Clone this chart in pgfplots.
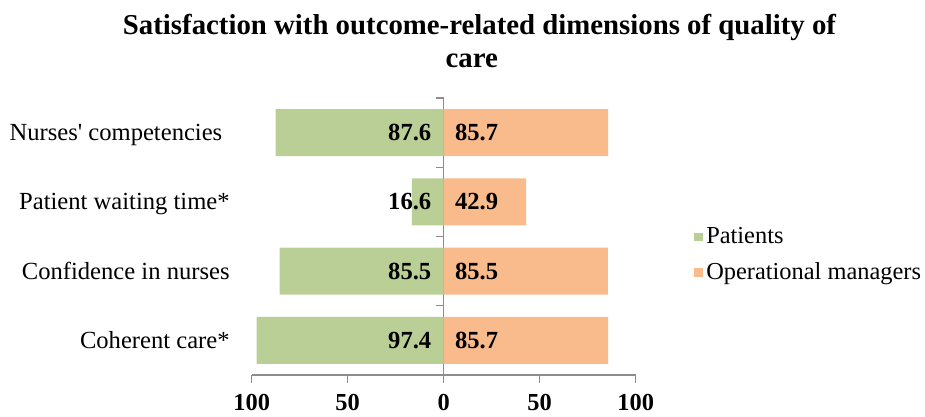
\documentclass[border=0pt]{standalone}
\usepackage{pgfplots}
\pgfplotsset{compat=1.18}
\usepackage{fontspec}
\defaultfontfeatures[\rmfamily]{}
\setmainfont{Liberation Serif}
\definecolor{pgreen}{HTML}{BACF96}
\definecolor{porange}{HTML}{F9BA8C}
\definecolor{axgray}{HTML}{8C8C8C}
\begin{document}
\begin{tikzpicture}
\begin{axis}[
  name=ax,
  at={(0,0)}, anchor=south west,
  scale only axis,
  clip=false,
  width=192pt, height=138.5pt,
  xmin=-100, xmax=100, ymin=-0.5, ymax=3.5,
  axis x line=bottom,
  axis y line=center,
  axis line style={axgray, line width=0.7pt, -},
  xtick={-100,-50,0,50,100},
  xticklabels={\textbf{100},\textbf{50},\textbf{0},\textbf{50},\textbf{100}},
  xticklabel style={font=\fontsize{12.2}{12}\selectfont, yshift=-2pt},
  ytick={-0.5,0.5,1.5,2.5,3.5},
  yticklabels={},
  tick style={axgray, line width=0.7pt},
  major tick length=4pt,
  tick align=outside,
  legend image code/.code={\fill (0pt,-2.2pt) rectangle (4.4pt,2.2pt);},
  legend style={at={(1.152,0.433)}, anchor=west, draw=none, fill=none,
    font=\fontsize{12.2}{12}\selectfont, row sep=5pt, inner sep=0pt,
    nodes={inner sep=1.5pt}},
  legend cell align=left,
]
\addlegendimage{fill=pgreen, draw=none}
\addlegendentry{Patients}
\addlegendimage{fill=porange, draw=none}
\addlegendentry{Operational managers}
% Patients (plotted to the left)
\addplot[xbar, bar width=0.676, bar shift=0pt, fill=pgreen, draw=none, forget plot]
  coordinates {(-97.4,0) (-85.5,1) (-16.6,2) (-87.6,3)};
% Operational managers
\addplot[xbar, bar width=0.676, bar shift=0pt, fill=porange, draw=none, forget plot]
  coordinates {(85.7,0) (85.5,1) (42.9,2) (85.7,3)};
% value labels
\addplot[draw=none, mark=none, forget plot, point meta=explicit,
  nodes near coords={\pgfmathprintnumber[fixed,fixed zerofill,precision=1,assume math mode=true]{\pgfplotspointmeta}},
  every node near coord/.append style={anchor=east, xshift=-6pt, inner sep=0pt,
    font=\fontsize{12.3}{12}\selectfont\bfseries}]
  coordinates {(0,0) [97.4] (0,1) [85.5] (0,2) [16.6] (0,3) [87.6]};
\addplot[draw=none, mark=none, forget plot, point meta=explicit,
  nodes near coords={\pgfmathprintnumber[fixed,fixed zerofill,precision=1,assume math mode=true]{\pgfplotspointmeta}},
  every node near coord/.append style={anchor=west, xshift=5.5pt, inner sep=0pt,
    font=\fontsize{12.3}{12}\selectfont\bfseries}]
  coordinates {(0,0) [85.7] (0,1) [85.5] (0,2) [42.9] (0,3) [85.7]};
% category labels
\node[anchor=base east, inner sep=0pt, font=\fontsize{12.3}{12}\selectfont, xshift=-14.5pt, yshift=-4pt] at (axis cs:-100,3) {Nurses' competencies};
\node[anchor=base east, inner sep=0pt, font=\fontsize{12.3}{12}\selectfont, xshift=-10.85pt, yshift=-4pt] at (axis cs:-100,2) {Patient waiting time*};
\node[anchor=base east, inner sep=0pt, font=\fontsize{12.3}{12}\selectfont, xshift=-10.85pt, yshift=-4pt] at (axis cs:-100,1) {Confidence in nurses};
\node[anchor=base east, inner sep=0pt, font=\fontsize{12.3}{12}\selectfont, xshift=-10.85pt, yshift=-4pt] at (axis cs:-100,0) {Coherent care*};
\end{axis}
\node[anchor=base, inner sep=0pt, font=\fontsize{14.4}{16}\selectfont\bfseries] at (113.9pt,170pt) {Satisfaction with outcome-related dimensions of quality of};
\node[anchor=base, inner sep=0pt, font=\fontsize{14.4}{16}\selectfont\bfseries] at (110pt,153.5pt) {care};
\pgfresetboundingbox
\path[use as bounding box] (-125.85pt,-21pt) rectangle (336.65pt,187.5pt);
\end{tikzpicture}
\end{document}
